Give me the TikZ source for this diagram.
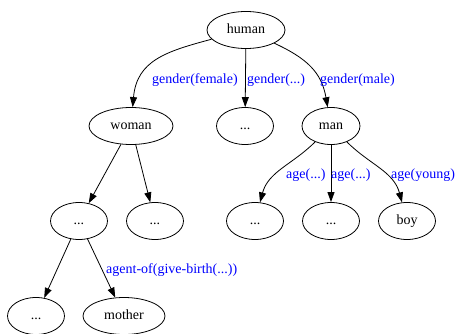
\documentclass[tikz,border=0pt]{standalone}
\usepackage{fontspec}
\setmainfont{Liberation Serif}
\usetikzlibrary{shapes.geometric,arrows.meta}
\begin{document}
\begin{tikzpicture}[x=1pt,y=1pt,
    every node/.style={font=\fontsize{14}{16}\selectfont},
    ent/.style={draw,ellipse,line width=0.8pt,minimum height=37pt,minimum width=57pt,
      inner sep=0pt,text height=9.5pt,text depth=3pt},
    lbl/.style={text=blue,anchor=west,inner sep=0pt},
    >={Triangle[length=10pt,width=7pt]}]
  \useasboundingbox (0,0) rectangle (459,333);
  \draw
    (246,303) node[ent,minimum width=78pt] (human){human}
    (131,207) node[ent,minimum width=84pt] (woman){woman}
    (245,207) node[ent] (gdots){...}
    (331,207) node[ent,minimum width=58pt] (man){man}
    (79,112) node[ent] (fdots){...}
    (155,112) node[ent] (wdots){...}
    (255,112) node[ent] (adotsa){...}
    (331,112) node[ent] (adotsb){...}
    (407,112) node[ent] (boy){boy}
    (36,17) node[ent] (ddots){...}
    (124,17) node[ent,minimum width=82pt] (mother){mother};
  \begin{scope}[->,line width=0.8pt]
    \draw (human) to[out=195,in=85,looseness=1.15] (woman);
    \draw (human) to (gdots);
    \draw (human) to[out=-25,in=100,looseness=1.1] (man);
    \draw (woman) to (fdots);
    \draw (woman) to (wdots);
    \draw (man) to[out=225,in=75] (adotsa);
    \draw (man) to (adotsb);
    \draw (man) to[out=-45,in=105] (boy);
    \draw (fdots) to (ddots);
    \draw (fdots) to (mother);
  \end{scope}
  \node[lbl] (lfemale) at (152,253) {gender(female)};
  \node[lbl] (lgender) at (247,253) {gender(...)};
  \node[lbl] (lmale) at (320,253) {gender(male)};
  \node[lbl] (lagea) at (286,158) {age(...)};
  \node[lbl] (lageb) at (331,158) {age(...)};
  \node[lbl] (lyoung) at (391,158) {age(young)};
  \node[lbl] (lagent) at (106,63) {agent-of(give-birth(...))};
\end{tikzpicture}
\end{document}
